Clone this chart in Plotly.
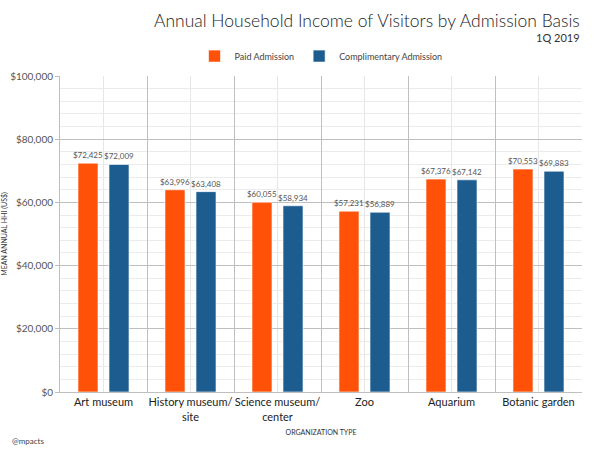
import plotly.graph_objects as go

categories = ["Art museum", "History museum/<br>site", "Science museum/<br>center", "Zoo", "Aquarium", "Botanic garden"]
paid = [72425, 63996, 60055, 57231, 67376, 70553]
comp = [72009, 63408, 58934, 56889, 67142, 69883]
series_names = ["Paid Admission", "Complimentary Admission"]

FONT = "Lato, 'Open Sans', sans-serif"
ORANGE = "#FF5107"
BLUE = "#1D5C8E"

fig = go.Figure()
for name, vals, col in [(series_names[0], paid, ORANGE), (series_names[1], comp, BLUE)]:
    fig.add_trace(go.Bar(
        x=categories, y=vals, name=name,
        marker=dict(color=col, line=dict(color="rgba(255,255,255,0.6)", width=1)),
        text=vals, texttemplate="$%{y:,}", textposition="outside",
        textfont=dict(size=8, color="#555555", family=FONT),
        constraintext="none", cliponaxis=False,
    ))

# light vertical gridlines at category centres
for c in categories:
    fig.add_shape(type="line", xref="x", yref="paper", x0=c, x1=c, y0=0, y1=1,
                  line=dict(color="#E6E6E6", width=1), layer="below")

fig.update_layout(
    width=600, height=449,
    margin=dict(l=60, r=18, t=76, b=57),
    paper_bgcolor="white", plot_bgcolor="white",
    font=dict(family=FONT, color="#333333"),
    barmode="group", bargap=0.287, bargroupgap=0.355,
    showlegend=True,
    legend=dict(orientation="h", x=0.5, xanchor="center", y=1.063, yanchor="middle",
                font=dict(size=9, color="#444444"),
                traceorder="normal"),
    annotations=[
        dict(text="Annual Household Income of Visitors by Admission Basis", xref="paper", yref="paper",
             x=1.0, xanchor="right", y=1.177, yanchor="middle", showarrow=False,
             font=dict(size=17.5, color="#222222", family=FONT, weight=300)),
        dict(text="1Q 2019", xref="paper", yref="paper", x=1.0, xanchor="right", y=1.123,
             yanchor="middle", showarrow=False, font=dict(size=11, color="#333333", family=FONT)),
        dict(text="@mpacts", xref="paper", yref="paper", x=-0.095, xanchor="left", y=-0.155,
             yanchor="middle", showarrow=False, font=dict(size=8, color="#444444", family=FONT)),
    ],
)
fig.update_xaxes(
    type="category", tickson="boundaries", showgrid=True, gridcolor="#BFBFBF", gridwidth=1,
    ticks="", tickangle=0, automargin=False, tickfont=dict(size=11, color="#222222"),
    showline=True, linecolor="#BFBFBF",
    title=dict(text="ORGANIZATION TYPE", font=dict(size=7, color="#333333"), standoff=8),
)
fig.update_yaxes(
    range=[0, 100000], dtick=20000, tickprefix="$", tickformat=",",
    showgrid=True, gridcolor="#BFBFBF", gridwidth=1,
    minor=dict(dtick=4000, showgrid=True, gridcolor="#EBEBEB", gridwidth=1),
    ticks="outside", ticklen=4, tickcolor="#BFBFBF", automargin=False,
    tickfont=dict(size=10, color="#555555"),
    showline=True, linecolor="#BFBFBF", zeroline=False,
    title=dict(text="MEAN ANNUAL HHI (US$)", font=dict(size=7, color="#333333"), standoff=4),
)

fig.write_html("out.html", config={"displayModeBar": False},
               post_script="document.body.style.margin='0';document.body.style.padding='0';")
